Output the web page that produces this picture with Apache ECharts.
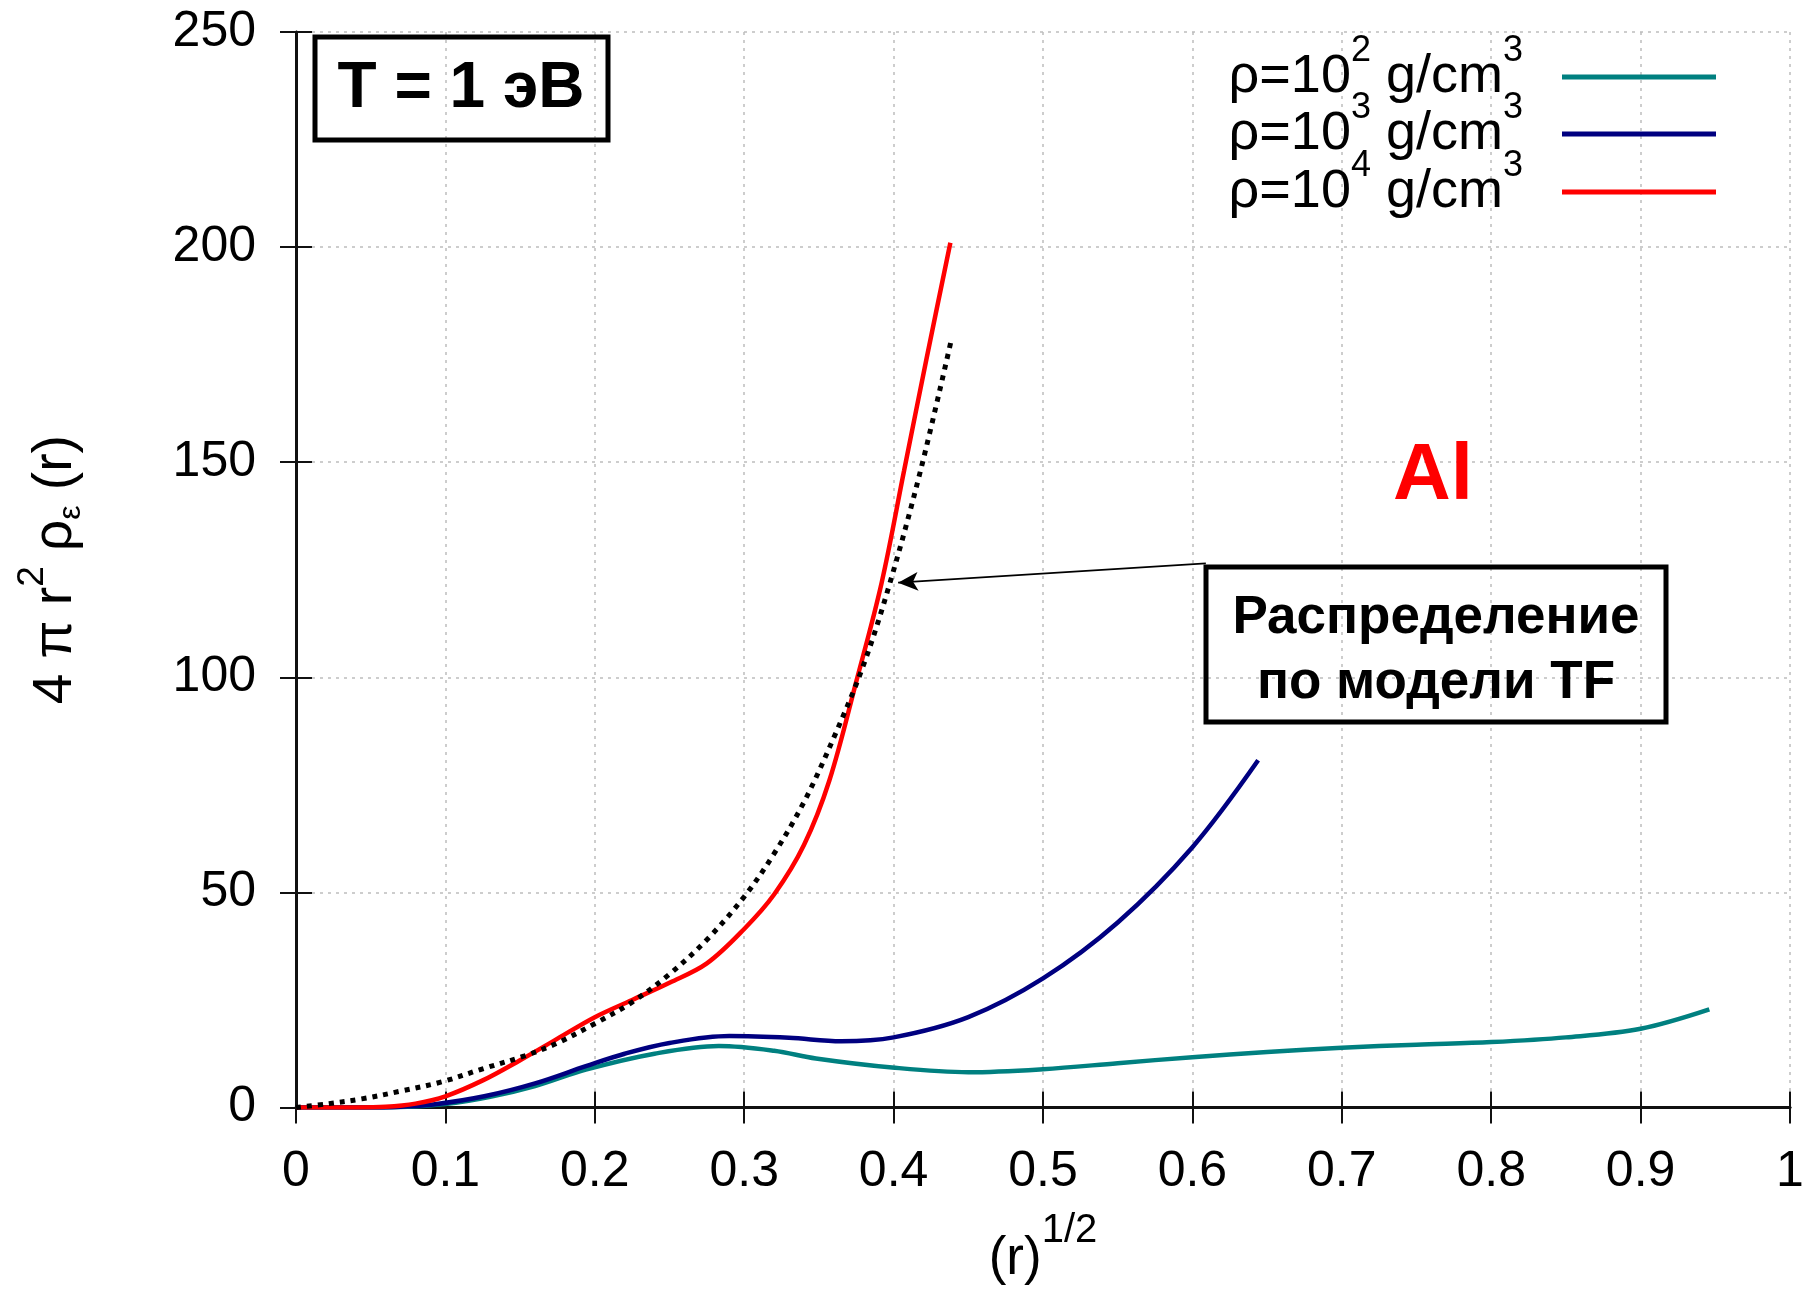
<!DOCTYPE html>
<html><head><meta charset="utf-8">
<script src="https://cdn.jsdelivr.net/npm/echarts@6/dist/echarts.min.js"></script>
<style>html,body{margin:0;padding:0;background:#fff}#c{width:1811px;height:1291px}</style>
</head><body><div id="c"></div>
<script>
// ---- data (x = r^(1/2), y = 4*pi*r^2*rho_eps(r)) ----
const seriesNames = ['ρ=10^2 g/cm^3', 'ρ=10^3 g/cm^3', 'ρ=10^4 g/cm^3'];
const legendRich = ['{m|ρ=10}{s|2}{m| g/cm}{s|3}', '{m|ρ=10}{s|3}{m| g/cm}{s|3}', '{m|ρ=10}{s|4}{m| g/cm}{s|3}'];
const seriesColors = ['#008080', '#000080', '#ff0000'];
const rho2 = [[0,0],[0.05,0],[0.07,0.1],[0.1,0.8],[0.13,2.5],[0.16,5],[0.194,8.8],[0.24,12.5],[0.283,14.3],[0.32,13.2],[0.348,11.4],[0.399,9.3],[0.45,8.2],[0.5,8.9],[0.55,10.3],[0.6,11.7],[0.65,12.9],[0.7,13.9],[0.75,14.6],[0.8,15.2],[0.85,16.3],[0.9,18.3],[0.946,22.8]];
const rho3 = [[0,0],[0.05,0],[0.07,0.2],[0.092,0.7],[0.126,2.6],[0.16,5.6],[0.194,9.6],[0.22,12.5],[0.25,15],[0.29,16.6],[0.33,16.2],[0.365,15.4],[0.4,16.3],[0.45,21],[0.5,30],[0.55,43],[0.6,60.5],[0.644,80.7]];
const rho4 = [[0,0],[0.04,0],[0.06,0.15],[0.08,0.9],[0.1,2.6],[0.125,6.3],[0.15,11],[0.175,16],[0.2,21],[0.225,25],[0.25,29],[0.275,33.5],[0.3,41.5],[0.32,49.5],[0.34,61],[0.357,76],[0.375,99],[0.392,122],[0.407,148],[0.422,174],[0.438,201]];
const tfModel = [[0,0],[0.022,0.9],[0.044,2],[0.07,3.8],[0.098,6],[0.125,9],[0.153,12],[0.175,15],[0.2,19.5],[0.225,24.5],[0.25,31],[0.275,39],[0.3,49],[0.32,59],[0.34,71],[0.36,86],[0.38,103],[0.3976,122],[0.418,148],[0.439,179]];
const arrowTip = [0.403, 122];
const arrowTail = [0.609, 126.5];
const xTickLabels = ['0','0.1','0.2','0.3','0.4','0.5','0.6','0.7','0.8','0.9','1'];
const yTickLabels = ['0','50','100','150','200','250'];

const FONT = 'Liberation Sans, Arial, Helvetica, sans-serif';
const chart = echarts.init(document.getElementById('c'));
const axisLineStyle = {color: '#111', width: 3};
const tick = {show: true, inside: true, length: 16, lineStyle: {color: '#111', width: 2}};
const grid = {show: true, lineStyle: {color: '#bdbdbd', width: 1.5, type: [3, 5]}};

const lineSeries = [rho2, rho3, rho4].map((d, i) => ({
  name: seriesNames[i], type: 'line', data: d, smooth: 0.35, showSymbol: false,
  lineStyle: {color: seriesColors[i], width: 4.5}, itemStyle: {color: seriesColors[i]},
  xAxisIndex: 0, yAxisIndex: 0, z: 3 + i
}));

const legendTops = [28, 85, 143];
const legends = seriesNames.map((n, i) => ({
  data: [n], orient: 'vertical', right: 90, top: legendTops[i], align: 'right',
  icon: 'rect', itemWidth: 154, itemHeight: 5, selectedMode: false,
  formatter: nm => legendRich[seriesNames.indexOf(nm)],
  textStyle: {
    padding: [0, 34, 0, 0],
    rich: {
      m: {fontFamily: FONT, fontSize: 54, lineHeight: 58, color: '#000'},
      s: {fontFamily: FONT, fontSize: 36, color: '#000', padding: [0, 0, 52, 0]}
    }
  }
}));

chart.setOption({
  animation: false,
  backgroundColor: '#fff',
  grid: {left: 296, right: 21, top: 32, bottom: 183},
  legend: legends,
  xAxis: [{
    type: 'value', min: 0, max: 1, interval: 0.1, position: 'bottom',
    axisLine: {show: true, lineStyle: axisLineStyle}, axisTick: tick, splitLine: grid,
    axisLabel: {margin: 40, color: '#000', fontFamily: FONT, fontSize: 50,
      formatter: v => xTickLabels[Math.round(v * 10)]},
    name: '{m|(r)}{s|1/2}', nameLocation: 'middle', nameGap: 103,
    nameTextStyle: {rich: {
      m: {fontFamily: FONT, fontSize: 53, lineHeight: 58, color: '#000'},
      s: {fontFamily: FONT, fontSize: 40, color: '#000', padding: [0, 0, 58, 0]}
    }}
  }, {
    type: 'value', min: 0, max: 1, interval: 0.1, position: 'top',
    axisLine: {show: true, lineStyle: {color: '#111', width: 2.5}}, axisTick: tick,
    axisLabel: {show: false}, splitLine: {show: false}
  }],
  yAxis: [{
    type: 'value', min: 0, max: 250, interval: 50, position: 'left',
    axisLine: {show: true, lineStyle: axisLineStyle}, axisTick: tick, splitLine: grid,
    axisLabel: {margin: 40, color: '#000', fontFamily: FONT, fontSize: 50,
      formatter: v => yTickLabels[Math.round(v / 50)]},
    name: '{m|4 π r}{s|2}{m| ρ}{b|ε}{m| (r)}', nameLocation: 'middle', nameGap: 199, nameRotate: 90,
    nameTextStyle: {rich: {
      m: {fontFamily: FONT, fontSize: 55, lineHeight: 60, color: '#000'},
      s: {fontFamily: FONT, fontSize: 37, color: '#000', padding: [0, 0, 46, 0]},
      b: {fontFamily: FONT, fontSize: 32, color: '#000', padding: [32, 0, 0, 0]}
    }}
  }, {
    type: 'value', min: 0, max: 250, interval: 50, position: 'right',
    axisLine: {show: true, lineStyle: {color: '#111', width: 2.5}}, axisTick: tick,
    axisLabel: {show: false}, splitLine: {show: false}
  }],
  series: [...lineSeries, {
    name: 'TF', type: 'line', data: tfModel, smooth: 0.35, showSymbol: false, z: 7,
    lineStyle: {color: '#000', width: 5, type: [5, 6], cap: 'butt'},
    markLine: {
      silent: true, symbol: ['arrow', 'none'], symbolSize: [14, 20],
      label: {show: false},
      lineStyle: {color: '#000', width: 1.8, type: 'solid'},
      data: [[{coord: arrowTip}, {coord: arrowTail}]]
    }
  }],
  graphic: [
    {type: 'rect', shape: {x: 315, y: 37, width: 293, height: 103}, style: {fill: 'none', stroke: '#000', lineWidth: 5}, z: 100},
    {type: 'text', x: 461, y: 89, style: {text: 'T = 1 эВ', font: 'bold 64px ' + FONT, fill: '#000', align: 'center', verticalAlign: 'middle',
      textShadowColor: '#aaa', textShadowOffsetX: 4, textShadowOffsetY: 4}, z: 100},
    {type: 'text', x: 1433, y: 477, style: {text: 'Al', font: 'bold 80px ' + FONT, fill: '#ff0000', align: 'center', verticalAlign: 'middle',
      textShadowColor: '#aaa', textShadowOffsetX: 4, textShadowOffsetY: 4}, z: 100},
    {type: 'rect', shape: {x: 1206, y: 567, width: 460, height: 155}, style: {fill: 'none', stroke: '#000', lineWidth: 5}, z: 100},
    {type: 'text', x: 1436, y: 618, style: {text: 'Распределение', font: 'bold 53px ' + FONT, fill: '#000', align: 'center', verticalAlign: 'middle',
      textShadowColor: '#aaa', textShadowOffsetX: 3, textShadowOffsetY: 3}, z: 100},
    {type: 'text', x: 1436, y: 683, style: {text: 'по модели TF', font: 'bold 53px ' + FONT, fill: '#000', align: 'center', verticalAlign: 'middle',
      textShadowColor: '#aaa', textShadowOffsetX: 3, textShadowOffsetY: 3}, z: 100}
  ]
});
</script></body></html>
